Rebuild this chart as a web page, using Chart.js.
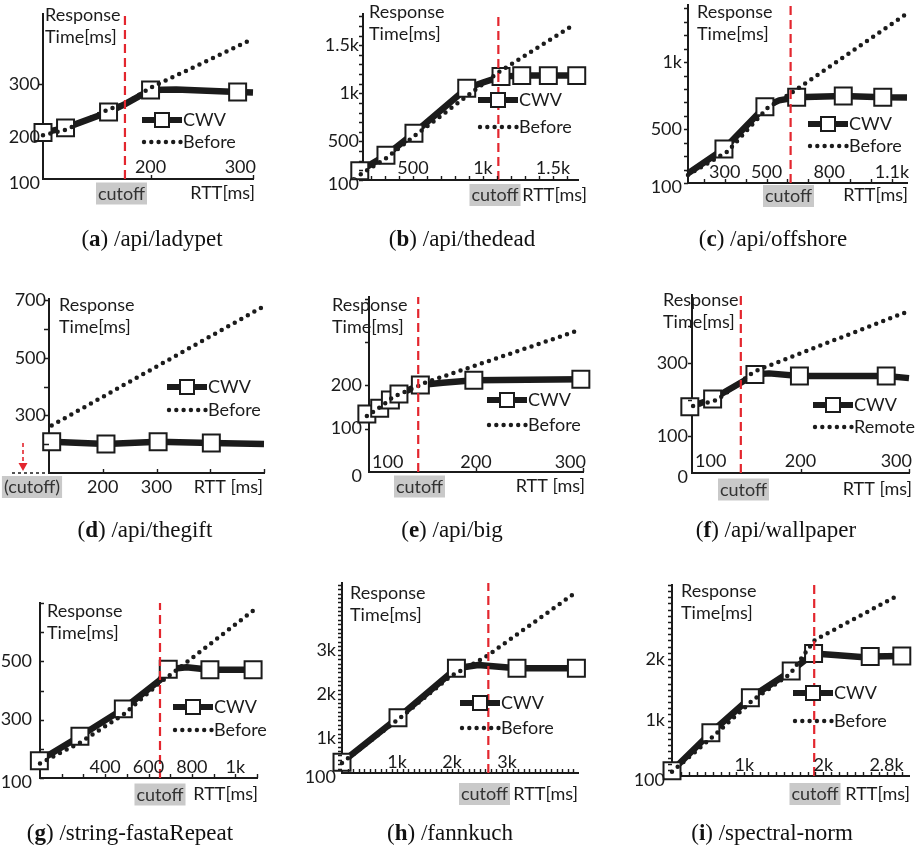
<!DOCTYPE html>
<html>
<head>
<meta charset="utf-8">
<script src="https://cdn.jsdelivr.net/npm/chart.js@4.4.1/dist/chart.umd.min.js"></script>
<style>
  body{margin:0;background:#fff;width:923px;height:848px;position:relative;overflow:hidden}
  canvas{position:absolute;left:0;top:0}
  .cap{position:absolute;font-family:'Liberation Serif','Times New Roman',serif;font-size:23px;line-height:1;color:#111;transform:translateX(-50%);white-space:nowrap}
</style>
</head>
<body>
<script>
// ---- data (RTT in ms, response time in ms) ----
// (a) /api/ladypet
const ladypetCwvRtt    = [95, 117, 159, 175, 200, 225, 285, 300];
const ladypetCwvTime   = [208, 217, 247, 262, 289, 290, 285, 284];
const ladypetCwvMark   = [1, 1, 1, 0, 1, 0, 1, 0];
const ladypetBeforeRtt = [95, 117, 159, 175, 200, 300];
const ladypetBeforeTime= [203, 213, 252, 263, 293, 386];
// (b) /api/thedead
const thedeadCwvRtt    = [120, 307, 507, 884, 1000, 1129, 1277, 1467, 1670];
const thedeadCwvTime   = [195, 356, 586, 1053, 1112, 1174, 1184, 1184, 1184];
const thedeadCwvMark   = [1, 1, 1, 1, 0, 1, 1, 1, 1];
const thedeadBeforeRtt = [127, 317, 498, 914, 1109, 1645];
const thedeadBeforeTime= [159, 336, 543, 1003, 1216, 1709];
// (c) /api/offshore
const offshoreCwvRtt    = [124, 296, 492, 560, 644, 867, 1056, 1172];
const offshoreCwvTime   = [172, 353, 668, 715, 738, 748, 738, 736];
const offshoreCwvMark   = [0, 1, 1, 0, 1, 1, 1, 0];
const offshoreBeforeRtt = [124, 312, 508, 609, 1162];
const offshoreBeforeTime= [160, 333, 664, 760, 1351];
// (d) /api/thegift
const thegiftCwvRtt    = [105, 206, 303, 402, 500];
const thegiftCwvTime   = [209, 201, 209, 204, 201];
const thegiftCwvMark   = [1, 1, 1, 1, 0];
const thegiftBeforeRtt = [105, 500];
const thegiftBeforeTime= [265, 680];
// (e) /api/big
const bigCwvRtt    = [98, 110, 120, 128, 148, 169, 198, 298];
const bigCwvTime   = [134, 147, 166, 180, 201, 206, 212, 214];
const bigCwvMark   = [1, 1, 1, 1, 1, 0, 1, 1];
const bigBeforeRtt = [98, 111, 123, 144, 151, 297];
const bigBeforeTime= [129, 151, 174, 196, 205, 328];
// (f) /api/wallpaper
const wallpaperCwvRtt    = [98, 119, 158, 171, 199, 279, 300];
const wallpaperCwvTime   = [181, 202, 269, 272, 265, 265, 259];
const wallpaperCwvMark   = [1, 1, 1, 0, 1, 1, 0];
const wallpaperRemoteRtt = [101, 123, 154, 162, 298];
const wallpaperRemoteTime= [183, 199, 270, 283, 440];
// (g) /string-fastaRepeat
const fastaCwvRtt    = [97, 284, 484, 653, 691, 776, 883, 1082];
const fastaCwvTime   = [159, 243, 337, 436, 473, 480, 471, 471];
const fastaCwvMark   = [1, 1, 1, 0, 1, 0, 1, 1];
const fastaBeforeRtt = [100, 284, 487, 645, 722, 1086];
const fastaBeforeTime= [150, 221, 319, 422, 466, 676];
// (h) /fannkuch
const fannkuchCwvRtt    = [0, 1018, 2080, 2478, 2690, 3181, 4261];
const fannkuchCwvTime   = [444, 1463, 2591, 2667, 2644, 2591, 2591];
const fannkuchCwvMark   = [1, 1, 1, 0, 0, 1, 1];
const fannkuchBeforeRtt = [0, 1024, 1782, 1964, 2509, 2660, 4266];
const fannkuchBeforeTime= [430, 1427, 2210, 2400, 2781, 2895, 4341];
// (i) /spectral-norm
const spectralCwvRtt    = [84, 576, 1076, 1593, 1876, 2143, 2475, 2593, 2993];
const spectralCwvTime   = [186, 802, 1370, 1803, 2090, 2064, 2030, 2040, 2046];
const spectralCwvMark   = [1, 1, 1, 1, 1, 0, 0, 1, 1];
const spectralBeforeRtt = [84, 600, 1109, 1580, 1767, 1892, 2955];
const spectralBeforeTime= [170, 738, 1334, 1756, 2092, 2307, 3038];

// cutoff RTT per panel a..i (d has its cutoff left of the axis)
const cutoffRtt = [175, 1110, 615, null, 146, 145, 653, 2660, 1884];

// tick values / labels
const yTickVals = [[120,200,300],[100,500,1000,1500],[100,500,1000],[300,500,700],[0,100,200],[0,100,300],[100,300,500],[200,1000,2000,3000],[100,1000,2000]];
const yTickText = [['100','200','300'],['100','500','1k','1.5k'],['100','500','1k'],['300','500','700'],['0','100','200'],['0','100','300'],['100','300','500'],['100','1k','2k','3k'],['100','1k','2k']];
const xTickVals = [[200,300],[500,1000,1500],[300,500,800,1100],[200,300],[100,200,300],[100,200,300],[400,600,800,1000],[1000,2000,3000],[1000,2000,2800]];
const xTickText = [['200','300'],['500','1k','1.5k'],['300','500','800','1.1k'],['200','300'],['100','200','300'],['100','200','300'],['400','600','800','1k'],['1k','2k','3k'],['1k','2k','2.8k']];
const captions = [['a','/api/ladypet'],['b','/api/thedead'],['c','/api/offshore'],['d','/api/thegift'],['e','/api/big'],['f','/api/wallpaper'],['g','/string-fastaRepeat'],['h','/fannkuch'],['i','/spectral-norm']];

const INK = '#1b1b1b';
const FONT = '18px Lato, "Open Sans", sans-serif';
const range = (a, b, s) => { const r = []; for (let v = a; v <= b + 1e-9; v += s) r.push(v); return r; };

// layout per panel: plot box [l,t,r,b] in page px, axis ranges, decorations
const panels = [
  {box:[43,7,253,179], x:[95,300], y:[120,433], cwv:[ladypetCwvRtt,ladypetCwvTime,ladypetCwvMark], bef:[ladypetBeforeRtt,ladypetBeforeTime], befName:'Before',
   yMarks:{list:[300],dir:-1,len:5}, xMarks:[200,300], yGap:3, xLabOff:-12, title:[45,15], leg:[142,120,142], cut:[121.5,193.5,'cutoff'], rtt:[255,193,'RTT[ms]'], cap:[152,238]},
  {box:[363,5,578,180], x:[143,1679], y:[100,1824], cwv:[thedeadCwvRtt,thedeadCwvTime,thedeadCwvMark], bef:[thedeadBeforeRtt,thedeadBeforeTime], befName:'Before',
   yMarks:{list:range(100,1800,100),dir:-1,len:4}, xMarks:range(200,1600,100), yGap:4, xLabOff:-12, title:[369,12], leg:[478,100,127], cut:[495,195,'cutoff'], rtt:[587,195,'RTT[ms]'], cap:[462,238]},
  {box:[688,5,907,183], x:[124,1172], y:[100,1425], cwv:[offshoreCwvRtt,offshoreCwvTime,offshoreCwvMark], bef:[offshoreBeforeRtt,offshoreBeforeTime], befName:'Before',
   yMarks:{list:range(100,1400,100),dir:-1,len:4}, xMarks:range(200,1100,100), yGap:6, xLabOff:-11, title:[697,12], leg:[808,124,146], cut:[788.5,196,'cutoff'], rtt:[908,195,'RTT[ms]'], cap:[773,238]},
  {box:[49,299,264,473], x:[100,500], y:[100,705], cwv:[thegiftCwvRtt,thegiftCwvTime,thegiftCwvMark], bef:[thegiftBeforeRtt,thegiftBeforeTime], befName:'Before',
   yMarks:{list:range(200,700,100),dir:-1,len:5}, xMarks:[200,300,400,500], yGap:3, xLabOff:14, title:[59,305], leg:[167,387,410], cut:[32,487,'(cutoff)'], rtt:[263,487,'RTT [ms]'], cap:[145,529], arrow:true},
  {box:[369,297,583,472], x:[100,300], y:[0,404], cwv:[bigCwvRtt,bigCwvTime,bigCwvMark], bef:[bigBeforeRtt,bigBeforeTime], befName:'Before',
   yMarks:{list:[100,200,300,400],dir:-1,len:4}, xMarks:[200,300], yGap:7, xLabOff:-10, title:[332,305], leg:[487,400,425], cut:[419.5,486.5,'cutoff'], rtt:[585,486,'RTT [ms]'], cap:[452,529]},
  {box:[692,295,912,473], x:[100,300], y:[0,486], cwv:[wallpaperCwvRtt,wallpaperCwvTime,wallpaperCwvMark], bef:[wallpaperRemoteRtt,wallpaperRemoteTime], befName:'Remote',
   yMarks:{list:[100,200,300,400],dir:-1,len:4}, xMarks:[200,300], yGap:4, xLabOff:-12, title:[663,300], leg:[813,405,427], cut:[743.5,489.5,'cutoff'], rtt:[912,489,'RTT [ms]'], cap:[776,529]},
  {box:[40,603,257,778], x:[100,1100], y:[100,700], cwv:[fastaCwvRtt,fastaCwvTime,fastaCwvMark], bef:[fastaBeforeRtt,fastaBeforeTime], befName:'Before',
   yMarks:{list:range(100,700,100),dir:1,len:4}, xMarks:range(200,1100,100), yGap:8, xLabOff:-11, title:[47,611], leg:[173,707,730], cut:[160,794.5,'cutoff'], rtt:[258,794,'RTT[ms]'], cap:[130,832]},
  {box:[342,583,578,773], x:[0,4290], y:[200,4540], cwv:[fannkuchCwvRtt,fannkuchCwvTime,fannkuchCwvMark], bef:[fannkuchBeforeRtt,fannkuchBeforeTime], befName:'Before',
   yMarks:{list:range(300,4500,100),dir:-1,len:4}, xMarks:range(100,4200,100), yGap:6, xLabOff:-11, title:[350,593], leg:[460,703,728], cut:[484.5,794,'cutoff'], rtt:[578,794,'RTT[ms]'], cap:[450,832]},
  {box:[672,585,912,776], x:[84,3084], y:[100,3200], cwv:[spectralCwvRtt,spectralCwvTime,spectralCwvMark], bef:[spectralBeforeRtt,spectralBeforeTime], befName:'Before',
   yMarks:{list:range(200,3200,100),dir:-1,len:4}, xMarks:range(200,3000,100), yGap:7, xLabOff:-11, title:[681,591], leg:[793,693,721], cut:[815,794,'cutoff'], rtt:[910,794,'RTT[ms]'], cap:[772,832]},
];

function deco(p, i){
  return {
    id:'deco',
    afterDraw(chart){
      const ctx = chart.ctx, xs = chart.scales.x, ys = chart.scales.y, a = chart.chartArea;
      ctx.save();
      // tick marks
      ctx.strokeStyle = INK; ctx.lineWidth = 1.4; ctx.beginPath();
      p.yMarks.list.forEach(v => { const y = Math.round(ys.getPixelForValue(v)) + 0.5; ctx.moveTo(a.left, y); ctx.lineTo(a.left + p.yMarks.dir * p.yMarks.len, y); });
      p.xMarks.forEach(v => { const x = Math.round(xs.getPixelForValue(v)) + 0.5; ctx.moveTo(x, a.bottom); ctx.lineTo(x, a.bottom - 4); });
      ctx.stroke();

      ctx.fillStyle = INK; ctx.font = FONT; ctx.textBaseline = 'middle';
      // y labels
      ctx.textAlign = 'right';
      yTickVals[i].forEach((v, k) => {
        let y = ys.getPixelForValue(v); if (v === p.y[0]) y += 4;
        ctx.fillText(yTickText[i][k], a.left - p.yGap, y);
      });
      // x labels
      ctx.textAlign = 'left';
      xTickVals[i].forEach((v, k) => {
        const s = xTickText[i][k], w = ctx.measureText(s).width;
        let x = xs.getPixelForValue(v) - w / 2;
        x = Math.min(x, a.right + 3 - w); x = Math.max(x, a.left + 3);
        ctx.fillText(s, x, a.bottom + p.xLabOff);
      });
      // axis titles
      ctx.fillText('Response', p.title[0], p.title[1]);
      ctx.fillText('Time[ms]', p.title[0], p.title[1] + 22);
      ctx.textAlign = 'right';
      ctx.fillText(p.rtt[2], p.rtt[0], p.rtt[1]);

      // cutoff tag
      ctx.textAlign = 'center';
      const cw = ctx.measureText(p.cut[2]).width + 4;
      ctx.fillStyle = '#c9c9c9';
      ctx.fillRect(p.cut[0] - cw / 2, p.cut[1] - 11, cw, 22);
      ctx.fillStyle = '#333';
      ctx.fillText(p.cut[2], p.cut[0], p.cut[1] + 0.5);

      // legend
      const [lx, ly1, ly2] = p.leg;
      ctx.strokeStyle = INK; ctx.lineWidth = 6; ctx.lineCap = 'butt';
      ctx.beginPath(); ctx.moveTo(lx, ly1); ctx.lineTo(lx + 40, ly1); ctx.stroke();
      ctx.fillStyle = '#fff'; ctx.lineWidth = 2;
      ctx.fillRect(lx + 13, ly1 - 7, 14, 14); ctx.strokeRect(lx + 13, ly1 - 7, 14, 14);
      ctx.fillStyle = INK;
      for (let k = 0; k < 6; k++) { ctx.beginPath(); ctx.arc(lx + 2 + k * 7.3, ly2, 2.2, 0, Math.PI * 2); ctx.fill(); }
      ctx.textAlign = 'left';
      ctx.fillText('CWV', lx + 41, ly1);
      ctx.fillText(p.befName, lx + 41, ly2);

      // (d): cutoff lies left of the axis
      if (p.arrow) {
        ctx.strokeStyle = INK; ctx.lineWidth = 1.4; ctx.setLineDash([3, 3]);
        ctx.beginPath(); ctx.moveTo(12, a.bottom); ctx.lineTo(a.left, a.bottom); ctx.stroke();
        ctx.strokeStyle = '#e3262e'; ctx.lineWidth = 1.6; ctx.setLineDash([4, 3]);
        ctx.beginPath(); ctx.moveTo(23, 443); ctx.lineTo(23, 464); ctx.stroke();
        ctx.setLineDash([]); ctx.fillStyle = '#e3262e';
        ctx.beginPath(); ctx.moveTo(18.5, 463); ctx.lineTo(27.5, 463); ctx.lineTo(23, 471); ctx.closePath(); ctx.fill();
      }
      ctx.restore();
    }
  };
}

panels.forEach((p, i) => {
  const cv = document.createElement('canvas');
  cv.width = 923; cv.height = 848; cv.style.width = '923px'; cv.style.height = '848px';
  document.body.appendChild(cv);
  const [l, t, r, b] = p.box;
  const pts = (xs, ys) => xs.map((x, k) => ({x, y: ys[k]}));
  const datasets = [
    {label: p.befName, data: pts(p.bef[0], p.bef[1]), borderColor: INK, borderWidth: 4.5, borderDash: [0, 7.5],
     borderCapStyle: 'round', pointRadius: 0, tension: 0, clip: false, order: 1},
    {label: 'CWV', data: pts(p.cwv[0], p.cwv[1]), borderColor: INK, borderWidth: 6.5, borderJoinStyle: 'round',
     pointStyle: 'rect', pointRadius: p.cwv[2].map(m => m ? 12 : 0), pointBackgroundColor: '#fff',
     pointBorderColor: INK, pointBorderWidth: 2, tension: 0, clip: false, order: 2}
  ];
  if (cutoffRtt[i] !== null) {
    datasets.push({label: 'cutoff', data: [{x: cutoffRtt[i], y: p.y[0]}, {x: cutoffRtt[i], y: p.y[1]}],
      borderColor: '#e3262e', borderWidth: 2.2, borderDash: [9, 5], pointRadius: 0, clip: false, order: 0});
  }
  const axis = (mm) => ({type: 'linear', min: mm[0], max: mm[1], ticks: {display: false},
    grid: {display: false, drawTicks: false}, border: {display: true, color: INK, width: 2}});
  new Chart(cv, {
    type: 'line',
    data: {datasets},
    options: {
      responsive: false, animation: false, devicePixelRatio: 1, events: [],
      layout: {padding: {left: l, top: t, right: 923 - r, bottom: 848 - b}},
      scales: {x: axis(p.x), y: axis(p.y)},
      plugins: {legend: {display: false}, tooltip: {enabled: false}}
    },
    plugins: [deco(p, i)]
  });
  const c = document.createElement('div');
  c.className = 'cap';
  c.style.left = p.cap[0] + 'px'; c.style.top = (p.cap[1] - 11.5) + 'px';
  c.innerHTML = '(<b>' + captions[i][0] + '</b>) ' + captions[i][1];
  document.body.appendChild(c);
});
</script>
</body>
</html>
